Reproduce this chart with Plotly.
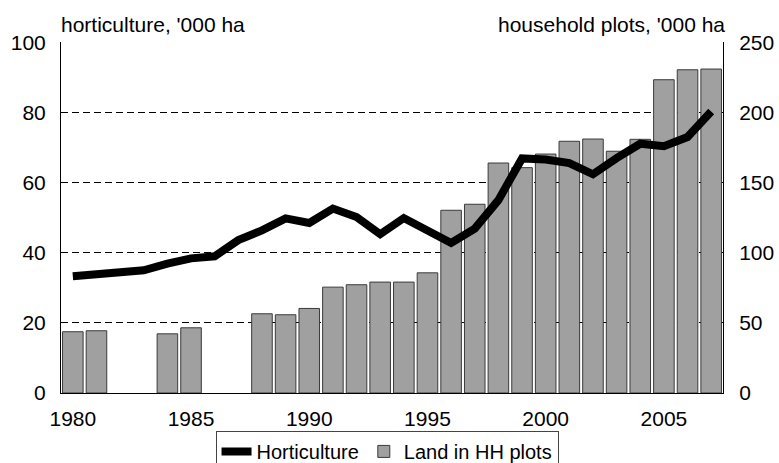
import plotly.graph_objects as go

years = list(range(1980, 2008))
horticulture = [33.3, 34.0, 34.2, 35.0, 36.9, 38.4, 39.0, 43.6, 46.4, 49.8,
                48.5, 52.6, 50.2, 45.3, 49.9, 46.4, 42.8, 46.9, 55.0, 66.9,
                66.6, 65.6, 62.4, 67.0, 71.1, 70.4, 73.0, 80.3]
hh_plots = [43.7, 44.4, None, None, 42.2, 46.5, None, None, 56.5, 55.8,
            60.3, 75.5, 77.2, 79.1, 79.1, 85.7, 130.3, 134.6, 164.0, 160.7,
            170.4, 179.5, 181.1, 172.4, 180.9, 223.4, 230.5, 231.0]
left_ticks = [0, 20, 40, 60, 80, 100]
right_ticks = [0, 50, 100, 150, 200, 250]
x_ticks = [1980, 1985, 1990, 1995, 2000, 2005]

FONT = "Liberation Sans"
FS = 21

fig = go.Figure()
fig.add_trace(go.Bar(
    x=years, y=hh_plots, name="Land in HH plots", yaxis="y",
    marker=dict(color="#A0A0A0", line=dict(color="#3a3a3a", width=1)),
    width=0.87, legendrank=2,
))
fig.add_trace(go.Scatter(
    x=years, y=horticulture, name="Horticulture", yaxis="y2",
    mode="lines", line=dict(color="black", width=8), legendrank=1,
))

fig.update_layout(
    width=779, height=463,
    margin=dict(l=61, r=56, t=42, b=70, autoexpand=False),
    paper_bgcolor="white", plot_bgcolor="white",
    font=dict(family=FONT, size=FS, color="black"),
    showlegend=True,
    legend=dict(orientation="h", x=0.4925, xanchor="center", y=-0.108, yanchor="top",
                bordercolor="#444", borderwidth=1, bgcolor="white",
                font=dict(size=20), itemwidth=30, tracegroupgap=0),
    bargap=0.13,
    xaxis=dict(range=[1979.5, 2007.5], tickvals=x_ticks, showgrid=False,
               showline=True, linecolor="black", linewidth=1, ticks="",
               zeroline=False, ticklabelstandoff=7, automargin=False),
    yaxis=dict(side="right", range=[0, 250.3], tickvals=right_ticks,
               showgrid=True, gridcolor="black", gridwidth=1, griddash="7px,4px",
               showline=True, linecolor="black", linewidth=1, zeroline=False,
               ticks="", ticklabelstandoff=11, automargin=False),
    yaxis2=dict(side="left", overlaying="y", range=[0, 100.12], tickvals=left_ticks,
                showgrid=False, showline=True, linecolor="black", linewidth=1,
                zeroline=False, ticks="", ticklabelstandoff=10, automargin=False),
    annotations=[
        dict(text="horticulture, '000 ha", xref="paper", yref="paper", x=0, y=1,
             xanchor="left", yanchor="bottom", showarrow=False, yshift=4, xshift=-2,
             font=dict(size=FS)),
        dict(text="household plots, '000 ha", xref="paper", yref="paper", x=1, y=1,
             xanchor="right", yanchor="bottom", showarrow=False, yshift=4, xshift=4,
             font=dict(size=FS)),
    ],
)

fig.write_html("out.html", config={"displayModeBar": False},
               post_script="document.body.style.margin='0';document.body.style.overflow='hidden';")
